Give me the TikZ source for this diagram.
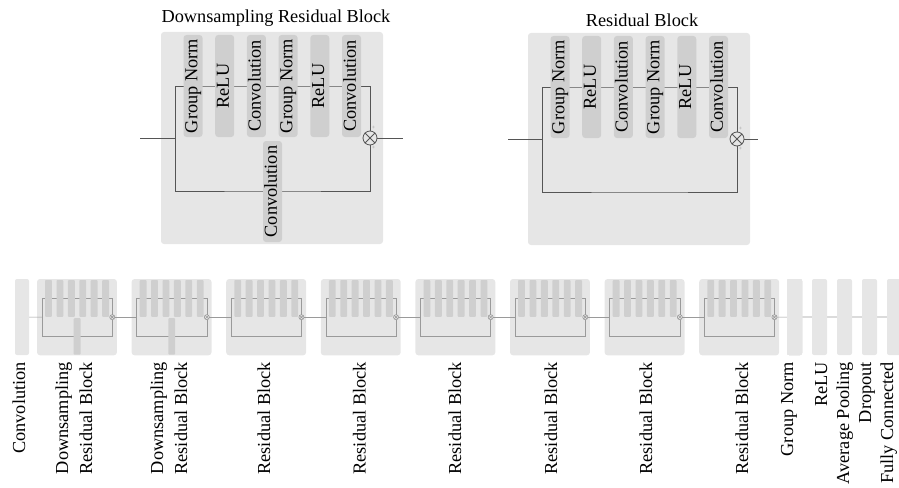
\documentclass[tikz,border=0pt]{standalone}
\usepackage{fontspec}
\setmainfont{Liberation Serif}
\definecolor{boxbg}{HTML}{E6E6E6}
\definecolor{barbg}{HTML}{CFCFCF}
\definecolor{lnA}{HTML}{555555}
\definecolor{lnB}{HTML}{9A9A9A}
\pgfdeclarelayer{boxes}
\pgfdeclarelayer{lines}
\pgfsetlayers{boxes,lines,main}
\tikzset{
  txt/.style={font=\fontsize{18.3}{22}\selectfont},
  blkbox/.style={fill=boxbg, rounded corners=3pt, inner sep=0pt, minimum width=222pt, minimum height=212pt},
  bar/.style={txt, fill=barbg, inner sep=0pt, minimum width=102pt, minimum height=19pt, rotate=90, text height=12.5pt, text depth=4pt},
  topbar/.style={rounded corners=3pt},
  botbar/.style={rounded corners=0.8pt},
  sumc/.style={circle, draw, inner sep=0pt, minimum size=14pt},
  topline/.style={draw=lnA, line width=0.8pt},
  botline/.style={draw=lnB, line width=0.6pt},
  plus/.style={font=\fontsize{6}{6}\selectfont, text=lnB, inner sep=0pt},
  sbar/.style={fill=boxbg, rounded corners=2pt, inner sep=0pt, minimum width=15pt, minimum height=76pt},
  lbl/.style={txt, rotate=90, anchor=base east, inner sep=0pt},
  ttl/.style={txt, anchor=base, inner sep=0pt},
}
\newcommand\resblk[7]{%
  \begin{scope}[shift={#2}, scale=#3, transform shape]
    \begin{pgfonlayer}{boxes}
      \node[blkbox] (#1-box) at (111,106) {};
    \end{pgfonlayer}
    \foreach \i/\lab in {1/Group Norm,2/ReLU,3/Convolution,4/Group Norm,5/ReLU,6/Convolution}
      \node[bar, #7] (#1-b\i) at ({32+31.7*(\i-1)},54) {\ifnum#4=1 \lab\fi};
    \coordinate (#1-L) at (14,106);
    \coordinate (#1-B) at (111.5,159);
    \node[sumc, #6] (#1-c) at (209,106) {};
    \ifnum#5=1
      \node[bar, #7, minimum width=101pt] (#1-ds) at (111.5,159.5) {\ifnum#4=1 Convolution\fi};
    \fi
    \ifnum#4=1
      \node[plus] (#1-p1) at (212.5,96) {+};
      \node[plus] (#1-p2) at (212.5,116) {+};
    \fi
    \begin{pgfonlayer}{lines}
      \draw[#6] (#1-L) |- (#1-b1.center) -- (#1-b6.center) -| (#1-c);
      \draw[#6] (#1-L) |- (#1-B) -| (#1-c);
      \draw[#6] (#1-c.north west) -- (#1-c.south east) (#1-c.north east) -- (#1-c.south west);
    \end{pgfonlayer}
  \end{scope}}
\begin{document}
\begin{tikzpicture}[x=1pt,y=-1pt]
\useasboundingbox (0,0) rectangle (899,487);
% titles
\node[ttl] (t1) at (276,23) {Downsampling Residual Block};
\node[ttl] (t2) at (642,27) {Residual Block};
% top blocks
\resblk{D}{(161,32)}{1}{1}{1}{topline}{topbar}
\resblk{R}{(528,33)}{1}{1}{0}{topline}{topbar}
\coordinate (Din) at (140,138);
\coordinate (Dout) at (403,138);
\coordinate (Rin) at (508,139);
\coordinate (Rout) at (758,139);
\begin{pgfonlayer}{lines}
\draw[topline] (Din) -- (D-L) (D-c) -- (Dout) (Rin) -- (R-L) (R-c) -- (Rout);
\end{pgfonlayer}
% bottom row
\node[sbar, minimum width=14pt] (cv) at (22,317) {};
\foreach \n/\x/\d in {1/37/1,2/131.6/1,3/226.2/0,4/320.8/0,5/415.4/0,6/510/0,7/604.6/0,8/699.2/0}
  \resblk{k\n}{(\x,279)}{0.36}{0}{\d}{botline}{botbar}
\node[sbar] (gn) at (794.5,317) {};
\node[sbar] (rl) at (819.5,317) {};
\node[sbar] (ap) at (844.5,317) {};
\node[sbar] (dr) at (869.5,317) {};
\node[sbar] (fc) at (894.5,317) {};
\begin{pgfonlayer}{lines}
\draw[botline] (cv) -- (k1-L);
\foreach \a/\b in {1/2,2/3,3/4,4/5,5/6,6/7,7/8}
  \draw[botline] (k\a-c) -- (k\b-L);
\draw[botline] (k8-c) -- (gn) -- (rl) -- (ap) -- (dr) -- (fc);
\end{pgfonlayer}
% labels
\node[lbl] (l0) at (25,362) {Convolution};
\node[lbl] (l1a) at (68,362) {Downsampling};
\node[lbl] (l1b) at (92,362) {Residual Block};
\node[lbl] (l2a) at (163,362) {Downsampling};
\node[lbl] (l2b) at (187,362) {Residual Block};
\node[lbl] (l3) at (270,362) {Residual Block};
\node[lbl] (l4) at (365.6,362) {Residual Block};
\node[lbl] (l5) at (461,362) {Residual Block};
\node[lbl] (l6) at (557,362) {Residual Block};
\node[lbl] (l7) at (652,362) {Residual Block};
\node[lbl] (l8) at (748,362) {Residual Block};
\node[lbl] (l9) at (793,362) {Group Norm};
\node[lbl] (l10) at (827,362) {ReLU};
\node[lbl] (l11) at (849,362) {Average Pooling};
\node[lbl] (l12) at (871,362) {Dropout};
\node[lbl] (l13) at (893,362) {Fully Connected};
\end{tikzpicture}
\end{document}
